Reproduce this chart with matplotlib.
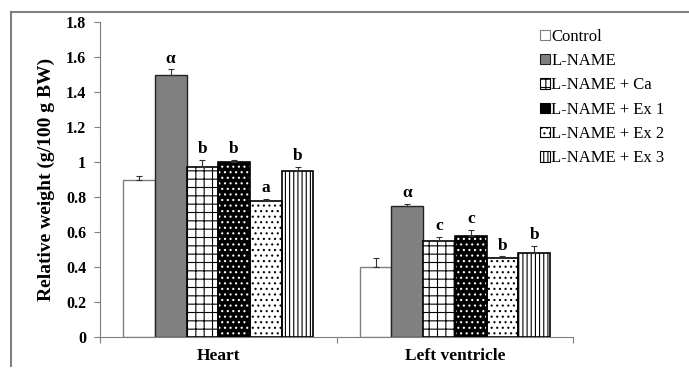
import numpy as np
import matplotlib
matplotlib.use('Agg')
import matplotlib.pyplot as plt
from matplotlib.lines import Line2D
from matplotlib.patches import Patch

plt.rcParams['font.family'] = ['Liberation Serif', 'DejaVu Serif']
plt.rcParams['hatch.linewidth'] = 0.8

categories = ['Heart', 'Left ventricle']
groups = ['Control', 'L-NAME', 'L-NAME + Ca', 'L-NAME + Ex 1', 'L-NAME + Ex 2', 'L-NAME + Ex 3']
heart = [0.90, 1.50, 0.97, 1.00, 0.78, 0.95]
heart_err = [0.02, 0.03, 0.04, 0.01, 0.01, 0.02]
lv = [0.40, 0.75, 0.55, 0.58, 0.45, 0.48]
lv_err = [0.05, 0.01, 0.02, 0.03, 0.01, 0.04]
heart_letters = ['', 'α', 'b', 'b', 'a', 'b']
lv_letters = ['', 'α', 'c', 'c', 'b', 'b']

# fill, hatch, hatch colour, edge colour
styles = [
    ('white', '', 'black', '#7f7f7f'),
    ('#808080', '', 'black', '#222222'),
    ('white', '++', 'black', 'black'),
    ('black', '...', 'white', 'black'),
    ('white', '...', 'black', 'black'),
    ('white', '||||', 'black', 'black'),
]

fig = plt.figure(figsize=(6.89, 3.74), dpi=100)
ax = fig.add_axes([0.145, 0.099, 0.687, 0.842])

values = np.array([heart, lv])
errors = np.array([heart_err, lv_err])
letters = [heart_letters, lv_letters]
centers = np.array([0.5, 1.5])
w = 0.134
offsets = (np.arange(6) - 2.5) * w

for j in range(6):
    face, hatch, hcol, ecol = styles[j]
    x = centers + offsets[j]
    if hatch:
        ax.bar(x, values[:, j], w, color=face, edgecolor=hcol, hatch=hatch, linewidth=0, zorder=2)
        ax.bar(x, values[:, j], w, fill=False, edgecolor=ecol, linewidth=1.2, zorder=3)
    else:
        ax.bar(x, values[:, j], w, color=face, edgecolor=ecol, linewidth=1.0, zorder=2)
    ax.errorbar(x, values[:, j], yerr=[np.zeros(2), errors[:, j]], fmt='none',
                ecolor='#333333', elinewidth=0.8, capsize=2.5, capthick=0.8, zorder=4)
    for i in range(2):
        if letters[i][j]:
            ax.annotate(letters[i][j], (x[i], values[i, j] + errors[i, j]),
                        xytext=(0, 2), textcoords='offset points', ha='center', va='bottom',
                        fontsize=12.5, fontweight='bold')

ax.set_xlim(0, 2)
ax.set_ylim(0, 1.8)
ax.set_yticks(np.arange(0, 1.81, 0.2))
ax.set_yticklabels(['%g' % round(t, 1) for t in np.arange(0, 1.81, 0.2)], fontsize=11.5, fontweight='bold')
ax.set_xticks([0, 1, 2])
ax.set_xticklabels([])
ax.set_xticks(centers, minor=True)
ax.set_xticklabels(categories, minor=True, fontsize=12.5, fontweight='bold')
ax.tick_params(axis='x', which='minor', length=0, pad=8)
ax.tick_params(axis='x', which='major', direction='out', length=4, color='#7f7f7f')
ax.tick_params(axis='y', direction='out', length=4, color='#7f7f7f', pad=6)
for s in ['top', 'right']:
    ax.spines[s].set_visible(False)
for s in ['left', 'bottom']:
    ax.spines[s].set_color('#7f7f7f')
ax.set_ylabel('Relative weight (g/100 g BW)', fontsize=14, fontweight='bold', labelpad=8)

handles = []
for j in range(6):
    face, hatch, hcol, ecol = styles[j]
    handles.append(Patch(facecolor=face, edgecolor=ecol if not hatch else 'black', hatch=hatch, linewidth=0.8))
leg = ax.legend(handles, groups, loc='upper left', bbox_to_anchor=(0.915, 1.0), frameon=False,
                fontsize=12, handlelength=0.6, handleheight=0.6, handletextpad=0.1,
                labelspacing=0.5, borderaxespad=0)

# figure frame (top and left edges)
fig.add_artist(Line2D([0.016, 1.0], [0.968, 0.968], color='#808080', lw=1.5, transform=fig.transFigure))
fig.add_artist(Line2D([0.016, 0.016], [0.968, 0.022], color='#808080', lw=1.5, transform=fig.transFigure))

fig.savefig('out.png', dpi=100)
